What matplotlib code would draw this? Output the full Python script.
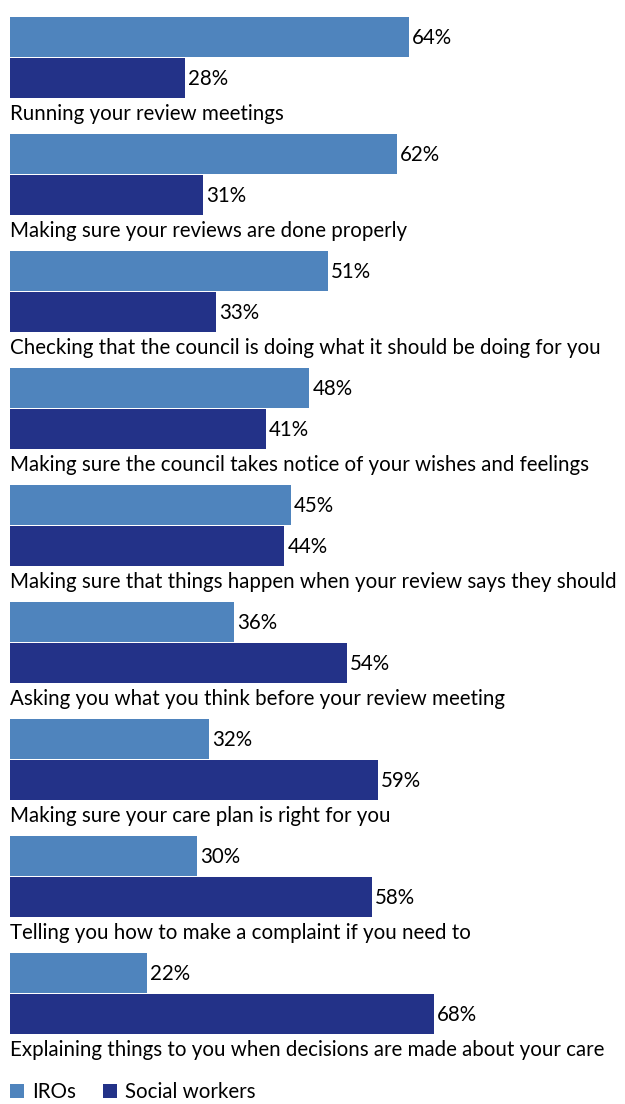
import matplotlib.pyplot as plt
import numpy as np

plt.rcParams['font.family'] = ['Lato', 'DejaVu Sans']

categories = [
    "Running your review meetings",
    "Making sure your reviews are done properly",
    "Checking that the council is doing what it should be doing for you",
    "Making sure the council takes notice of your wishes and feelings",
    "Making sure that things happen when your review says they should",
    "Asking you what you think before your review meeting",
    "Making sure your care plan is right for you",
    "Telling you how to make a complaint if you need to",
    "Explaining things to you when decisions are made about your care",
]
iros = [64, 62, 51, 48, 45, 36, 32, 30, 22]
social_workers = [28, 31, 33, 41, 44, 54, 59, 58, 68]

light_blue = "#4f84bd"
navy = "#233288"

fig = plt.figure(figsize=(6.25, 11.04), dpi=100)
ax = fig.add_axes([0, 0, 1, 1])

pos = np.arange(len(categories))
h = 0.342
gap = 0.008
fs = 14.8
b1 = ax.barh(pos, iros, height=h, color=light_blue, label="IROs")
b2 = ax.barh(pos + h + gap, social_workers, height=h, color=navy, label="Social workers")

for i in range(len(categories)):
    ax.text(iros[i] + 0.5, pos[i] + 0.01, f"{iros[i]}%", va="center", ha="left", fontsize=fs)
    ax.text(social_workers[i] + 0.5, pos[i] + h + gap + 0.01, f"{social_workers[i]}%",
            va="center", ha="left", fontsize=fs)
    ax.text(0, pos[i] + 0.655, categories[i], va="center", ha="left", fontsize=fs)

ax.set_xlim(-10 / 6.234, 615 / 6.234)
ax.set_ylim((1104 - 37) / 117, -37 / 117)
ax.axis("off")

fig.legend(handles=[b1, b2], loc="lower left", bbox_to_anchor=(0.012, 0.0),
           ncol=2, frameon=False, fontsize=fs, handlelength=0.7, handleheight=0.7,
           handletextpad=0.4, columnspacing=1.3, borderaxespad=0, borderpad=0.1)

fig.savefig("out.png", dpi=100)
